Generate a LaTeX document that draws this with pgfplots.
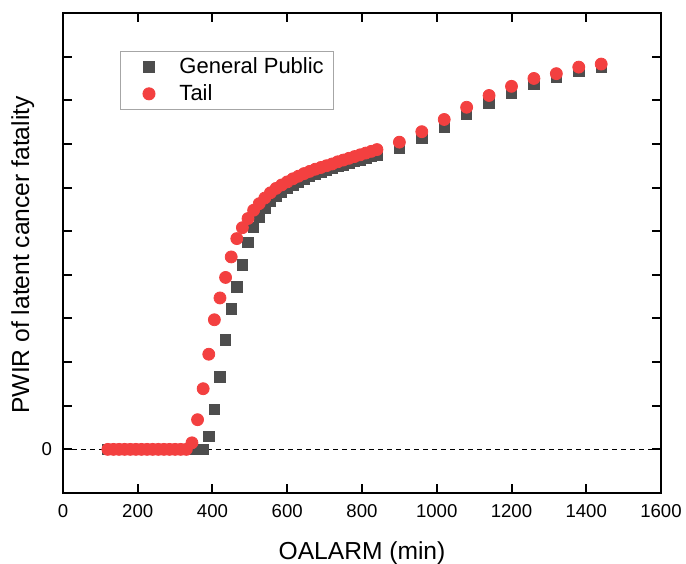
\documentclass[border=0pt]{standalone}
\usepackage{pgfplots}
\pgfplotsset{compat=1.18}
\usepackage{fontspec}
\setmainfont{Liberation Sans}
\usetikzlibrary{calc}
\definecolor{gp}{RGB}{77,77,77}
\definecolor{tl}{RGB}{243,64,64}
\begin{document}
\begin{tikzpicture}
\begin{axis}[
  scale only axis, width=299pt, height=240pt,
  xmin=0, xmax=1600, ymin=-1, ymax=10,
  xtick={0,200,...,1600},
  ytick={0,1,...,10}, yticklabels={0},
  tick align=inside, major tick length=4.5pt,
  axis line style={line width=1pt},
  every tick/.style={black, line width=1pt},
  /pgf/number format/assume math mode=true,
  /pgf/number format/1000 sep={},
  tick label style={font=\fontsize{9.3}{11}\selectfont},
  xticklabel style={yshift=-2pt},
  yticklabel style={xshift=-2pt},
  xlabel={OALARM (min)},
  ylabel={PWIR of latent cancer fatality},
  label style={font=\fontsize{12.3}{14}\selectfont},
  xlabel style={at={(axis description cs:0.5,-0.1375)}, anchor=base},
  ylabel style={at={(axis description cs:-0.0565,0.496)}, anchor=base},
  legend image code/.code={\path (0pt,0pt) (22pt,0pt); \draw[#1] plot coordinates {(11pt,0pt)};},
  legend style={at={(axis description cs:0.0953,0.921)}, anchor=north west,
    draw=gray!70, line width=0.5pt, font=\fontsize{11}{13}\selectfont,
    inner xsep=3pt, inner ysep=1pt, row sep=0pt,
    /tikz/every odd column/.append style={column sep=2pt}},
  legend cell align=left,
]
\coordinate (bl) at (rel axis cs:0,0);
\coordinate (tr) at (rel axis cs:1,1);
\addplot[only marks, mark=square*, mark size=2.6pt, color=gp, mark options={fill=gp, draw=gp}] coordinates {
(120,0) (135,0) (150,0) (165,0) (180,0) (195,0) (210,0) (225,0) (240,0) (255,0)
(270,0) (285,0) (300,0) (315,0) (330,0) (345,0) (360,0) (375,0)
(390,0.30) (405,0.91) (420,1.66) (435,2.51) (450,3.22) (465,3.72) (480,4.23)
(495,4.74) (510,5.09) (525,5.32) (540,5.52) (555,5.68) (570,5.80) (585,5.90)
(600,5.99) (615,6.06) (630,6.13) (645,6.19) (660,6.25) (675,6.30) (690,6.35)
(705,6.39) (720,6.44) (735,6.48) (750,6.52) (765,6.56) (780,6.60) (795,6.63)
(810,6.67) (825,6.71) (840,6.74)
(900,6.90) (960,7.12) (1020,7.38) (1080,7.69) (1140,7.94) (1200,8.17)
(1260,8.37) (1320,8.52) (1380,8.66) (1440,8.75)
};
\addlegendentry{General Public}
\addplot[only marks, mark=*, mark size=3pt, color=tl, mark options={fill=tl, draw=tl}] coordinates {
(120,0) (135,0) (150,0) (165,0) (180,0) (195,0) (210,0) (225,0) (240,0) (255,0)
(270,0) (285,0) (300,0) (315,0) (330,0)
(345,0.15) (360,0.68) (375,1.39) (390,2.18) (405,2.97) (420,3.47) (435,3.94)
(450,4.41) (465,4.83) (480,5.08) (495,5.29) (510,5.48) (525,5.63) (540,5.76)
(555,5.88) (570,5.98) (585,6.06) (600,6.13) (615,6.20) (630,6.26) (645,6.32)
(660,6.37) (675,6.42) (690,6.46) (705,6.50) (720,6.54) (735,6.59) (750,6.63)
(765,6.67) (780,6.71) (795,6.75) (810,6.79) (825,6.83) (840,6.87)
(900,7.04) (960,7.28) (1020,7.56) (1080,7.84) (1140,8.11) (1200,8.32)
(1260,8.50) (1320,8.61) (1380,8.76) (1440,8.83)
};
\addlegendentry{Tail}
\addplot[forget plot, black, line width=0.6pt, dash pattern=on 2.7pt off 1.8pt] coordinates {(0,0) (1600,0)};
\end{axis}
\pgfresetboundingbox
\path[use as bounding box] ($(bl)+(-31.5pt,-35pt)$) rectangle ($(tr)+(12.5pt,6.5pt)$);
\end{tikzpicture}
\end{document}
